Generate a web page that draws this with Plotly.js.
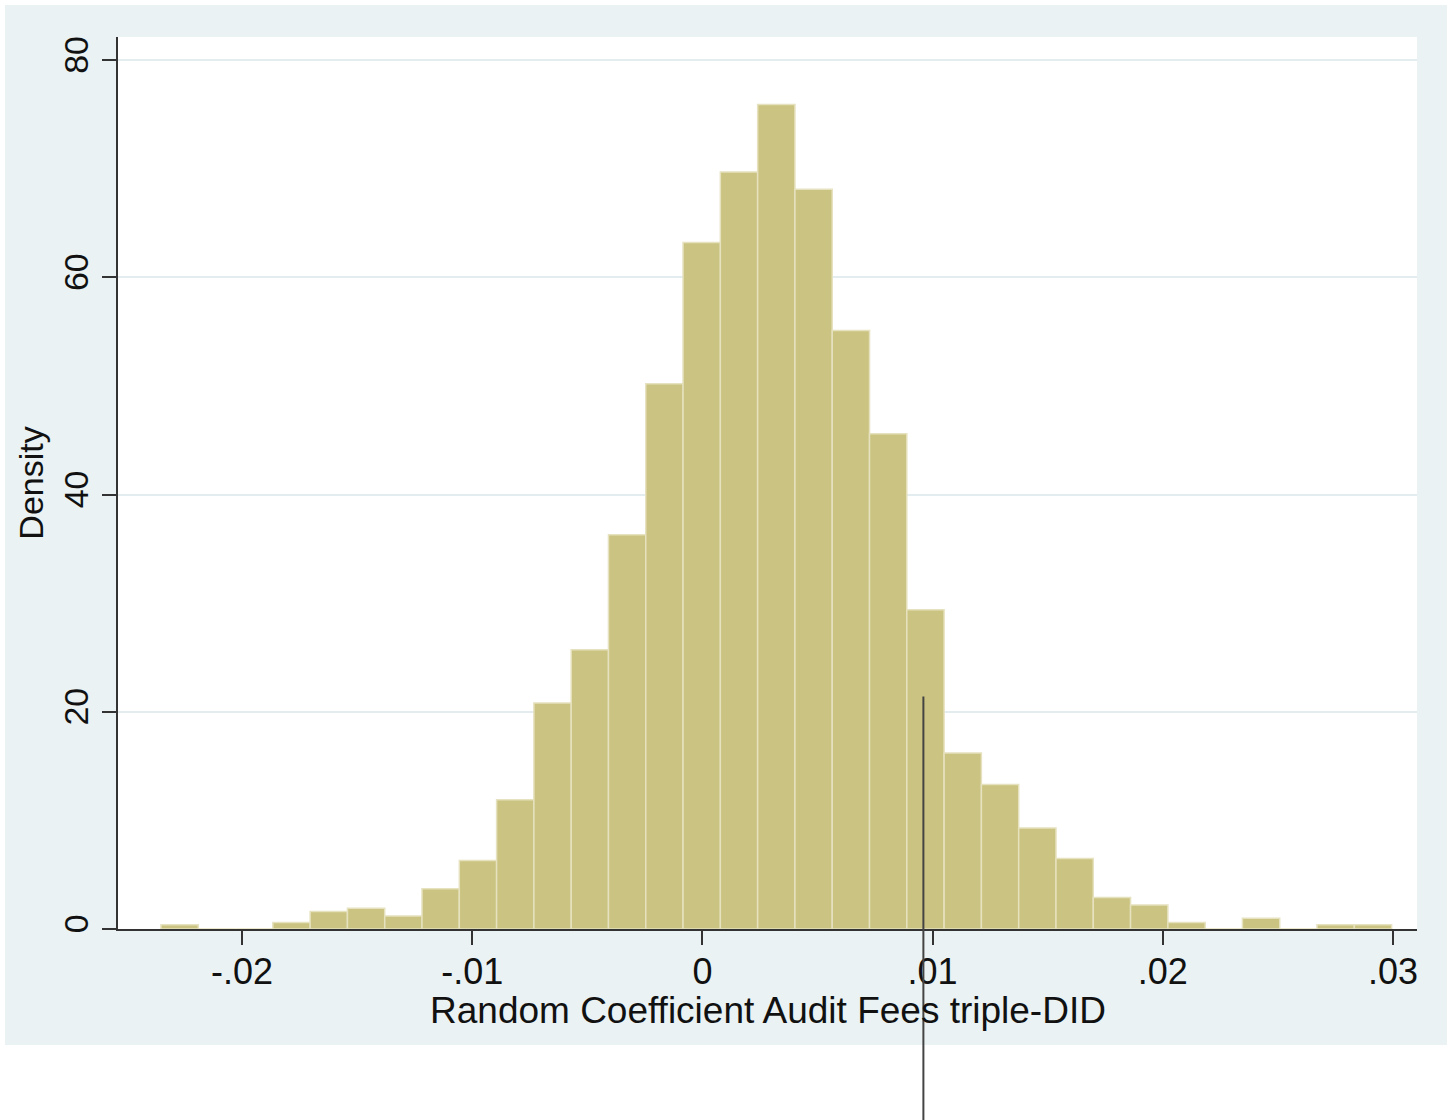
<!DOCTYPE html>
<html>
<head>
<meta charset="utf-8">
<script src="https://cdn.plot.ly/plotly-3.0.1.min.js"></script>
<style>html,body{margin:0;padding:0;background:#fff;}#chart{width:1447px;height:1120px;}</style>
</head>
<body>
<div id="chart"></div>
<script>
// Histogram data (Stata-style, density)
const binStart = -0.02352;
const binWidth = 0.00162;
const density = [0.4, 0, 0, 0.6, 1.6, 1.9, 1.2, 3.7, 6.3, 11.9, 20.8, 25.7, 36.3, 50.2,
                 63.2, 69.7, 75.9, 68.1, 55.1, 45.6, 29.4, 16.2, 13.3, 9.3, 6.5, 2.9, 2.2, 0.6,
                 0, 1.0, 0, 0.4, 0.4];
const xTickVals = [-0.02, -0.01, 0, 0.01, 0.02, 0.03];
const xTickText = ['-.02', '-.01', '0', '.01', '.02', '.03'];
const yTickVals = [0, 20, 40, 60, 80];
const xTitle = 'Random Coefficient Audit Fees triple-DID';
const yTitle = 'Density';
const markerX = 0.0096;       // observed coefficient
const markerTopY = 21.4;      // top of vertical marker line (density units)
const xRange = [-0.025387, 0.031043];
const yRange = [0, 82.12];

const binCenters = density.map((_, i) => binStart + (i + 0.5) * binWidth);

const W = 1447, H = 1120;
const M = {l: 118, r: 30, t: 37, b: 191};
const pw = W - M.l - M.r, ph = H - M.t - M.b;
const px = v => (v - M.l) / pw;          // pixel -> paper x
const py = v => (H - M.b - v) / ph;      // pixel -> paper y

const toPaperX = v => (v - xRange[0]) / (xRange[1] - xRange[0]);
const toPaperY = v => (v - yRange[0]) / (yRange[1] - yRange[0]);

const font = {family: '"Liberation Sans", Arial, sans-serif', color: '#111'};

const trace = {
  type: 'bar',
  x: binCenters,
  y: density,
  width: density.map(() => binWidth),
  marker: {color: '#CBC381', line: {color: '#E6E1BE', width: 1.5}},
  hoverinfo: 'x+y'
};

const layout = {
  width: W, height: H,
  margin: M,
  paper_bgcolor: '#ffffff',
  plot_bgcolor: '#ffffff',
  showlegend: false,
  bargap: 0,
  font: font,
  xaxis: {
    range: xRange,
    tickvals: xTickVals,
    ticktext: xTickText,
    ticks: 'outside', ticklen: 14, tickwidth: 2, tickcolor: '#333',
    ticklabelstandoff: -4,
    showgrid: false, zeroline: false,
    showline: true, linecolor: '#333', linewidth: 2,
    tickfont: {size: 36, family: font.family, color: '#111'},
    automargin: false
  },
  yaxis: {
    range: yRange,
    tickvals: yTickVals,
    ticks: 'outside', ticklen: 14, tickwidth: 2, tickcolor: '#333',
    tickangle: -90,
    showgrid: true, gridcolor: '#E3EDEF', gridwidth: 2,
    zeroline: false,
    showline: true, linecolor: '#333', linewidth: 2,
    tickfont: {size: 34, family: font.family, color: '#111'},
    title: {text: yTitle, font: {size: 34, family: font.family, color: '#111'}, standoff: 4},
    automargin: false
  },
  annotations: [
    {text: xTitle, xref: 'paper', yref: 'paper',
     x: px(768), y: py(1010), xanchor: 'center', yanchor: 'middle',
     showarrow: false, font: {size: 37, family: font.family, color: '#111'}}
  ],
  shapes: [
    // outer graph region background
    {type: 'rect', xref: 'paper', yref: 'paper', layer: 'below',
     x0: px(5), x1: px(1447), y0: py(1045), y1: py(5),
     fillcolor: '#EAF2F3', line: {width: 0}},
    // plot region background
    {type: 'rect', xref: 'paper', yref: 'paper', layer: 'below',
     x0: 0, x1: 1, y0: 0, y1: 1,
     fillcolor: '#ffffff', line: {width: 0}},
    // x axis line extension to the left
    {type: 'line', xref: 'paper', yref: 'paper', layer: 'above',
     x0: px(104), x1: 0, y0: 0, y1: 0,
     line: {color: '#333', width: 2}},
    // observed coefficient marker line
    {type: 'line', xref: 'paper', yref: 'paper', layer: 'above',
     x0: toPaperX(markerX), x1: toPaperX(markerX),
     y0: toPaperY(markerTopY), y1: py(1120),
     line: {color: '#444', width: 2}}
  ]
};

Plotly.newPlot('chart', [trace], layout, {displayModeBar: false, staticPlot: true});
</script>
</body>
</html>
